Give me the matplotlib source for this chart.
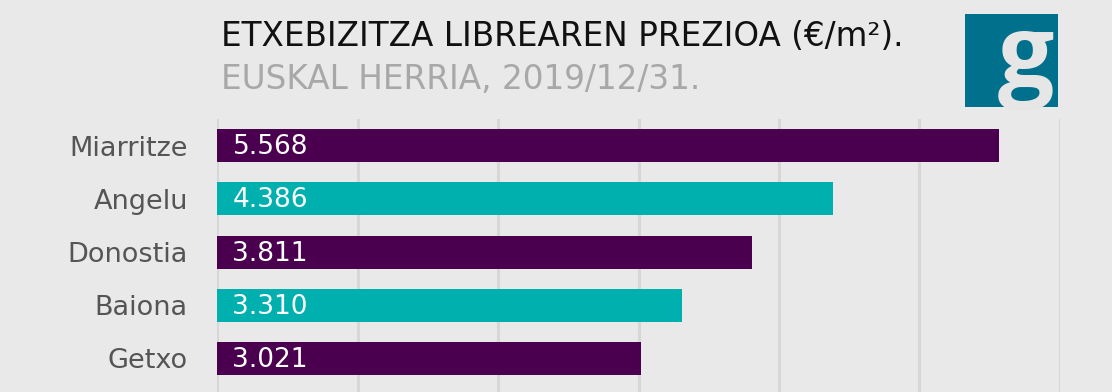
import matplotlib.pyplot as plt
import matplotlib.patches as mpatches

# Data
herriak = ['Miarritze', 'Angelu', 'Donostia', 'Baiona', 'Getxo']
prezioak = [5568, 4386, 3811, 3310, 3021]
etiketak = ['5.568', '4.386', '3.811', '3.310', '3.021']
koloreak = ['#4b004f', '#00b0ae', '#4b004f', '#00b0ae', '#4b004f']

bg = '#e9e9e9'
W, H = 1112, 392

fig = plt.figure(figsize=(W / 100, H / 100), dpi=100, facecolor=bg)

# bar area
ax = fig.add_axes([217 / W, 0, (1060 - 217) / W, (392 - 119) / H], facecolor=bg)
ypos = list(range(len(herriak)))
ax.barh(ypos, prezioak, height=0.62, color=koloreak, zorder=2)
ax.set_xlim(0, 6000)
ax.set_ylim(4.63, -0.5)
ax.set_xticks(range(0, 6001, 1000))
ax.xaxis.grid(True, color='#d7d7d7', linewidth=2.2, zorder=0)
ax.tick_params(axis='x', length=0, labelbottom=False)
ax.tick_params(axis='y', length=0, pad=21)
ax.set_yticks(ypos)
ax.set_yticklabels(herriak, fontsize=19.5, color='#555555', family='DejaVu Sans')
for s in ax.spines.values():
    s.set_visible(False)
for y, lab in zip(ypos, etiketak):
    ax.text(110, y + 0.03, lab, color='white', fontsize=19, family='DejaVu Sans',
            va='center', ha='left', zorder=3)

# titles
fig.text(221 / W, 1 - 46 / H, 'ETXEBIZITZA LIBREAREN PREZIOA (€/m²).',
         fontsize=23.5, color='#111111', family='DejaVu Sans', va='baseline')
fig.text(221 / W, 1 - 89 / H, 'EUSKAL HERRIA, 2019/12/31.',
         fontsize=23.5, color='#a8a8a8', family='DejaVu Sans', va='baseline')

# logo
lax = fig.add_axes([965 / W, 1 - 107 / H, 93 / W, 93 / H])
lax.set_xlim(0, 1)
lax.set_ylim(0, 1)
lax.axis('off')
sq = mpatches.Rectangle((0, 0), 1, 1, color='#00708c')
lax.add_patch(sq)
g = lax.text(0.65, 0.21, 'g', color='#e6e6e6', fontsize=72, family='Open Sans',
             fontweight='bold', ha='center', va='baseline')
g.set_clip_path(sq)

fig.savefig('out.png', dpi=100, facecolor=bg)
